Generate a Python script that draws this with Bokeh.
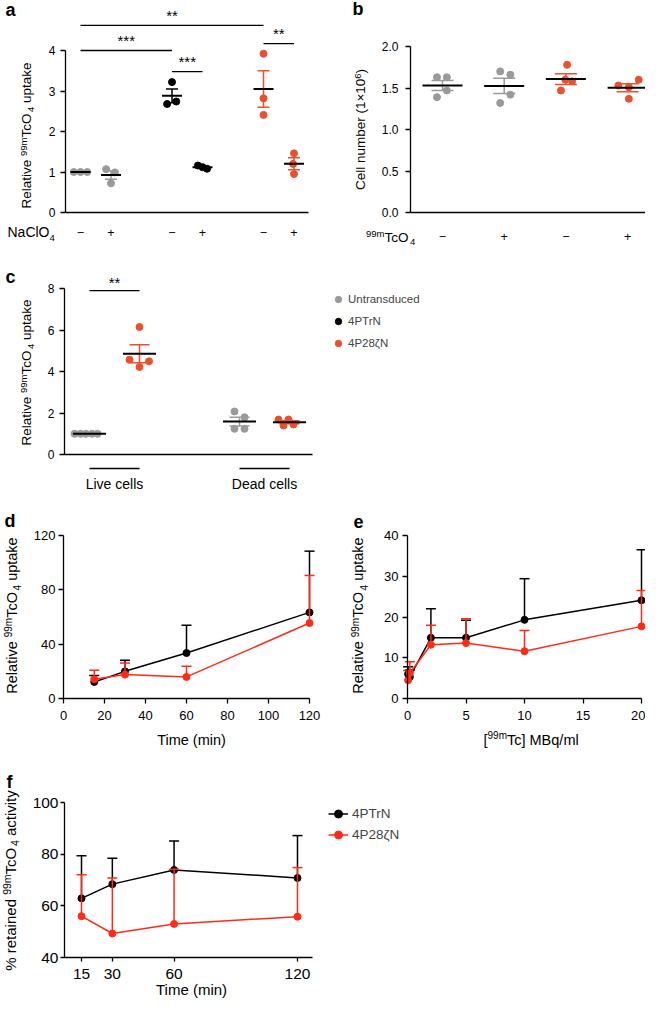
import numpy as np
from math import pi
from bokeh.plotting import figure
from bokeh.models import Label, Legend, LegendItem, FixedTicker, Arrow, Range1d
from bokeh.layouts import column, row
from bokeh.embed import file_html
from bokeh.resources import INLINE
from bokeh.core.properties import value

FONT = "Liberation Sans"
GREY = "#9a9a9a"
ORANGE = "#e8502e"
RED = "#ff2a17"
BLACK = "#000000"

# ---------------- data ----------------
group_names = ["Untransduced", "4PTrN", "4P28ζN"]
group_colors = [GREY, BLACK, ORANGE]

# panel a: relative uptake +/- NaClO4
a_pos = [1, 2, 4, 5, 7, 8]
a_sign = ["−", "+", "−", "+", "−", "+"]
a_group = [0, 0, 1, 1, 2, 2]
a_vals = [[1.0, 1.0, 1.0], [1.07, 0.99, 0.72], [3.22, 2.68, 2.74],
          [1.16, 1.12, 1.08], [3.92, 2.82, 2.41], [1.46, 1.20, 0.95]]
a_jit = [[-0.22, 0.0, 0.22], [-0.16, 0.13, 0.0], [0.0, -0.16, 0.14],
         [-0.15, 0.0, 0.15], [0.0, 0.0, 0.0], [0.0, -0.03, 0.0]]
a_sig_pairs = [(0, 4), (0, 2), (2, 3), (4, 5)]
a_sig_y = [4.62, 4.0, 3.48, 4.17]
a_sig_text = ["**", "***", "***", "**"]

# panel b: cell number +/- 99mTcO4
b_pos = [1, 2, 3, 4]
b_sign = ["−", "+", "−", "+"]
b_group = [0, 0, 2, 2]
b_vals = [[1.63, 1.63, 1.39, 1.47], [1.70, 1.66, 1.42, 1.32],
          [1.78, 1.60, 1.58, 1.47], [1.53, 1.60, 1.37, 1.51]]
b_jit = [[-0.09, 0.07, -0.09, 0.07], [-0.065, 0.1, 0.1, -0.065],
         [0.02, -0.01, 0.1, -0.08], [-0.15, 0.18, 0.02, 0.02]]

# panel c: live vs dead cells
c_pos = [1, 2, 4, 5]
c_group = [0, 2, 0, 2]
c_vals = [[1.0, 1.0, 1.0, 1.0, 1.0], [6.16, 4.58, 4.50, 4.23],
          [2.08, 1.80, 1.24, 1.24], [1.69, 1.69, 1.40, 1.45]]
c_jit = [[-0.3, -0.18, -0.07, 0.05, 0.16], [0.0, -0.2, 0.19, 0.0],
         [-0.1, 0.1, -0.1, 0.1], [-0.22, -0.02, -0.12, 0.08]]
c_cat_pos = [1.5, 4.5]
c_cats = ["Live cells", "Dead cells"]
c_cat_span = [(1, 2), (4, 5)]
c_sig_pairs = [(0, 1)]
c_sig_y = [7.92]
c_sig_text = ["**"]

# panel d: uptake vs time
d_time = [15, 30, 60, 120]
d_trn = [12.2, 20.0, 33.5, 63.4]
d_trn_err = [4.7, 8.2, 20.4, 45.1]
d_p28 = [14.2, 17.6, 15.9, 55.6]
d_p28_err = [6.6, 8.6, 7.9, 35.0]

# panel e: uptake vs activity
e_conc = [0.05, 0.2, 2, 5, 10, 20]
e_trn = [6.0, 5.3, 14.9, 14.9, 19.3, 24.1]
e_trn_err = [1.8, 1.7, 7.1, 4.3, 10.1, 12.4]
e_p28 = [4.5, 6.2, 13.2, 13.6, 11.6, 17.7]
e_p28_err = [2.4, 2.8, 4.8, 6.0, 5.1, 8.8]

# panel f: retention
f_time = [15, 30, 60, 120]
f_trn = [62.9, 68.4, 73.9, 70.8]
f_trn_err = [16.5, 10.0, 11.2, 16.4]
f_p28 = [56.0, 49.3, 53.0, 55.8]
f_p28_err = [16.0, 21.5, 21.2, 19.0]

# ---------------- geometry (page pixels) ----------------
PANELS = {
    'a': dict(ox=0, oy=0, w=330, h=262, xp=80, xv=1, sx=30.5, yp=212, yv=0, sy=40.5),
    'b': dict(ox=330, oy=0, w=315, h=262, xp=442, xv=1, sx=61.7, yp=212, yv=0, sy=83.0),
    'c': dict(ox=0, oy=262, w=645, h=240, xp=89, xv=1, sx=50.0, yp=454, yv=0, sy=20.7),
    'd': dict(ox=0, oy=502, w=330, h=246, xp=63, xv=0, sx=2.05, yp=698, yv=0, sy=1.358),
    'e': dict(ox=330, oy=502, w=315, h=246, xp=407, xv=0, sx=11.7, yp=698, yv=0, sy=4.075),
    'f': dict(ox=0, oy=748, w=645, h=252, xp=81, xv=15, sx=2.057, yp=957, yv=40, sy=2.583),
}
BASE_FIX = 0.36  # empirical baseline correction (fraction of font size)

CW = {' ': 278, '%': 889, '(': 333, ')': 333, '/': 278, '[': 278, ']': 278, '×': 584, '*': 389,
      'A': 667, 'B': 667, 'C': 722, 'D': 722, 'L': 556, 'M': 833, 'N': 722, 'O': 778, 'P': 667,
      'R': 722, 'T': 611, 'U': 722, 'a': 556, 'b': 556, 'c': 500, 'd': 556, 'e': 556, 'i': 222,
      'k': 500, 'l': 222, 'm': 833, 'n': 556, 'o': 556, 'p': 556, 'q': 556, 'r': 333, 's': 500,
      't': 278, 'u': 556, 'v': 500, 'y': 500}


def tw(s, size):
    return sum(CW.get(ch, 556) for ch in s) * size / 1000.0


def to_data(k, rx, ry):
    G = PANELS[k]
    return G['xv'] + (rx - G['xp']) / G['sx'], G['yv'] + (G['yp'] - ry) / G['sy']


def make(k):
    G = PANELS[k]
    x0, y1 = to_data(k, G['ox'], G['oy'])
    x1, y0 = to_data(k, G['ox'] + G['w'], G['oy'] + G['h'])
    p = figure(width=G['w'], height=G['h'], x_range=Range1d(x0, x1), y_range=Range1d(y0, y1),
               output_backend="svg", toolbar_location=None, title=None,
               min_border_left=0, min_border_top=0, min_border_right=0, min_border_bottom=0)
    p.outline_line_color = None
    p.grid.visible = False
    p.background_fill_color = "white"
    p.border_fill_color = "white"
    return p


def key(t):
    return int(t) if float(t).is_integer() else t


def axfmt(ax, ticks, size, loc, tick_out=5, standoff=4, labels=None, bounds=None, show_ticks=True):
    ax.fixed_location = loc
    ax.ticker = FixedTicker(ticks=list(ticks))
    ax.minor_tick_line_color = None
    ax.major_tick_in = 0
    ax.major_tick_out = tick_out
    ax.axis_line_color = BLACK
    ax.axis_line_width = 1.3
    ax.major_tick_line_width = 1.3
    ax.major_tick_line_color = BLACK if show_ticks else None
    ax.major_label_text_font = FONT
    ax.major_label_text_font_size = f"{size}px"
    ax.major_label_text_color = BLACK
    ax.major_label_standoff = standoff
    if labels is not None:
        ax.major_label_overrides = {key(t): l for t, l in zip(ticks, labels)}
    if bounds is not None:
        ax.bounds = bounds


def lab(p, k, rx, ry, text, size, bold=False, align='left', angle=0.0):
    # rx, ry: desired alphabetic baseline anchor in page pixels
    if angle == 0.0:
        ry = ry - BASE_FIX * size
    else:
        rx = rx - BASE_FIX * size
    x, y = to_data(k, rx, ry)
    p.add_layout(Label(x=x, y=y, text=text, text_font=FONT, text_font_size=f"{size}px",
                       text_font_style='bold' if bold else 'normal', text_align=align,
                       text_baseline='alphabetic', angle=angle, text_color=BLACK))


def vtitle(p, k, bx, cy, segs):
    total = sum(tw(t, s) for t, s, _ in segs)
    y = cy + total / 2
    for t, s, sh in segs:
        lead = len(t) - len(t.lstrip())
        lab(p, k, bx + sh, y - tw(' ' * lead, s), t.strip(), s, angle=pi / 2)
        y -= tw(t, s)


def htitle(p, k, x0, by, segs):
    x = x0
    for t, s, sh in segs:
        lead = len(t) - len(t.lstrip())
        lab(p, k, x + tw(' ' * lead, s), by + sh, t.strip(), s)
        x += tw(t, s)


def uptake_segs(M, S):
    return [("Relative ", M, 0), ("99m", S, -0.33 * M), ("TcO", M, 0), ("4", S, 0.25 * M), (" uptake", M, 0)]


def dots(p, pos, vals, jit, groups, mean_w, cap_w):
    rends = {}
    for x0, v, j, g in zip(pos, vals, jit, groups):
        col = group_colors[g]
        r = p.scatter([x0 + d for d in j], v, size=7, fill_color=col, line_color=col)
        rends.setdefault(g, r)
        m = float(np.mean(v))
        se = float(np.std(v, ddof=1) / np.sqrt(len(v)))
        p.segment(x0=[x0], y0=[m - se], x1=[x0], y1=[m + se], line_color=col, line_width=1.5)
        p.scatter([x0, x0], [m - se, m + se], marker='dash', size=cap_w, line_color=col, line_width=1.5)
        p.scatter([x0], [m], marker='dash', size=mean_w, line_color=BLACK, line_width=2)
    return rends


def sig(p, k, pos, pairs, ys, texts, lift_px):
    x0 = [pos[i] for i, j in pairs]
    x1 = [pos[j] for i, j in pairs]
    p.segment(x0=x0, y0=ys, x1=x1, y1=ys, line_color=BLACK, line_width=1.3)
    lift = lift_px / PANELS[k]['sy']
    p.text(x=[(a + b) / 2 for a, b in zip(x0, x1)], y=[v + lift for v in ys], text=texts,
           text_font=value(FONT), text_font_size=value("15px"), text_align="center",
           text_baseline="middle", text_color=BLACK)


def series(p, x, y, err, col):
    up = [a + b for a, b in zip(y, err)]
    p.segment(x0=x, y0=y, x1=x, y1=up, line_color=col, line_width=1.5)
    p.scatter(x, up, marker='dash', size=10, line_color=col, line_width=1.5)
    lr = p.line(x, y, line_color=col, line_width=1.5)
    sr = p.scatter(x, y, size=7, fill_color=col, line_color=col)
    return lr, sr


# ---------------- panel a ----------------
pa = make('a')
ax_a = to_data('a', 65, 0)[0]
axfmt(pa.yaxis[0], [0, 1, 2, 3, 4], 12, ax_a, tick_out=5, standoff=5, bounds=(0, 4))
axfmt(pa.xaxis[0], a_pos, 12.5, 0, tick_out=0, standoff=15, labels=a_sign,
      bounds=(ax_a, 8.475), show_ticks=False)
dots(pa, a_pos, a_vals, a_jit, a_group, 20, 12)
sig(pa, 'a', a_pos, a_sig_pairs, a_sig_y, a_sig_text, 10)
lab(pa, 'a', 5, 16, "a", 18, bold=True)
vtitle(pa, 'a', 30.5, 135, uptake_segs(13.5, 9.5))
htitle(pa, 'a', 7, 237, [("NaClO", 14, 0), ("4", 9.5, 3.5)])

# ---------------- panel b ----------------
pb = make('b')
ax_b = to_data('b', 410, 0)[0]
axfmt(pb.yaxis[0], [0, 0.5, 1, 1.5, 2], 12, ax_b, tick_out=5, standoff=7,
      labels=["0.0", "0.5", "1.0", "1.5", "2.0"], bounds=(0, 2))
axfmt(pb.xaxis[0], b_pos, 12.5, 0, tick_out=0, standoff=19, labels=b_sign,
      bounds=(ax_b, pb.x_range.end), show_ticks=False)
dots(pb, b_pos, b_vals, b_jit, b_group, 40, 22)
lab(pb, 'b', 352, 15, "b", 18, bold=True)
vtitle(pb, 'b', 365, 129, [("Cell number (1×10", 13.5, 0), ("6", 9.5, -0.33 * 13.5), (")", 13.5, 0)])
htitle(pb, 'b', 365.5, 242, [("99m", 9.5, -6), ("TcO", 13.5, 0), ("4", 9.5, 3.3)])

# ---------------- panel c ----------------
pc = make('c')
ax_c = to_data('c', 64, 0)[0]
axfmt(pc.yaxis[0], [0, 2, 4, 6, 8], 12, ax_c, tick_out=5, standoff=5, bounds=(0, 8))
axfmt(pc.xaxis[0], c_cat_pos, 14, 0, tick_out=0, standoff=21, labels=c_cats,
      bounds=(ax_c, 5.46), show_ticks=False)
rc = dots(pc, c_pos, c_vals, c_jit, c_group, 33, 20)
sig(pc, 'c', c_pos, c_sig_pairs, c_sig_y, c_sig_text, 8.5)
r_black = pc.scatter(x=[float('nan')], y=[float('nan')], size=7, fill_color=BLACK, line_color=BLACK)
yb = to_data('c', 0, 468)[1]
for s0, s1 in c_cat_span:
    pc.add_layout(Arrow(end=None, x_start=s0, y_start=yb, x_end=s1, y_end=yb,
                        line_color=BLACK, line_width=1.3))
legc = Legend(items=[LegendItem(label=group_names[0], renderers=[rc[0]]),
                     LegendItem(label=group_names[1], renderers=[r_black]),
                     LegendItem(label=group_names[2], renderers=[rc[2]])],
              location=(330, 148), orientation="vertical", glyph_width=16, glyph_height=22,
              label_height=22, spacing=0, padding=0, margin=0, label_standoff=2,
              border_line_color=None, background_fill_alpha=0,
              label_text_font=FONT, label_text_font_size="11.5px")
pc.add_layout(legc, "center")
lab(pc, 'c', 5, 283, "c", 18, bold=True)
vtitle(pc, 'c', 30.5, 372, uptake_segs(13.5, 9.5))

# ---------------- panel d ----------------
pd_ = make('d')
axfmt(pd_.yaxis[0], [0, 40, 80, 120], 13, 0, tick_out=5, standoff=3, bounds=(0, 120))
axfmt(pd_.xaxis[0], [0, 20, 40, 60, 80, 100, 120], 13, 0, tick_out=5, standoff=7, bounds=(0, 120))
series(pd_, d_time, d_trn, d_trn_err, BLACK)
series(pd_, d_time, d_p28, d_p28_err, RED)
lab(pd_, 'd', 4, 527, "d", 18, bold=True)
vtitle(pd_, 'd', 16.5, 615, uptake_segs(14.5, 10))
lab(pd_, 'd', 191, 745, "Time (min)", 14.5, align='center')

# ---------------- panel e ----------------
pe = make('e')
axfmt(pe.yaxis[0], [0, 10, 20, 30, 40], 13, 0, tick_out=5, standoff=4, bounds=(0, 40))
axfmt(pe.xaxis[0], [0, 5, 10, 15, 20], 13, 0, tick_out=5, standoff=7, bounds=(0, 20))
series(pe, e_conc, e_trn, e_trn_err, BLACK)
series(pe, e_conc, e_p28, e_p28_err, RED)
lab(pe, 'e', 353, 527, "e", 18, bold=True)
vtitle(pe, 'e', 363, 615, uptake_segs(14.5, 10))
htitle(pe, 'e', 483, 745, [("[", 14.5, 0), ("99m", 10, -6), ("Tc] MBq/ml", 14.5, 0)])

# ---------------- panel f ----------------
pf = make('f')
ax_f = to_data('f', 64, 0)[0]
axfmt(pf.yaxis[0], [40, 60, 80, 100], 15.5, ax_f, tick_out=4, standoff=2, bounds=(40, 100))
axfmt(pf.xaxis[0], f_time, 15.5, 40, tick_out=4, standoff=7, bounds=(ax_f, 127.3))
l1, s1 = series(pf, f_time, f_trn, f_trn_err, BLACK)
l2, s2 = series(pf, f_time, f_p28, f_p28_err, RED)
legf = Legend(items=[LegendItem(label=group_names[1], renderers=[l1, s1]),
                     LegendItem(label=group_names[2], renderers=[l2, s2])],
              location=(328, 155), orientation="vertical", glyph_width=20, glyph_height=21,
              label_height=21, spacing=0, padding=0, margin=0, label_standoff=4,
              border_line_color=None, background_fill_alpha=0,
              label_text_font=FONT, label_text_font_size="13.5px")
pf.add_layout(legf, "center")
lab(pf, 'f', 6, 788, "f", 18, bold=True)
vtitle(pf, 'f', 15, 880, [("% retained ", 15, 0), ("99m", 10.5, -0.33 * 15), ("TcO", 15, 0),
                          ("4", 10.5, 0.25 * 15), (" activity", 15, 0)])
lab(pf, 'f', 191, 994, "Time (min)", 15, align='center')

layout = column(row(pa, pb), pc, row(pd_, pe), pf)
open("out.html", "w").write(file_html(layout, INLINE))
